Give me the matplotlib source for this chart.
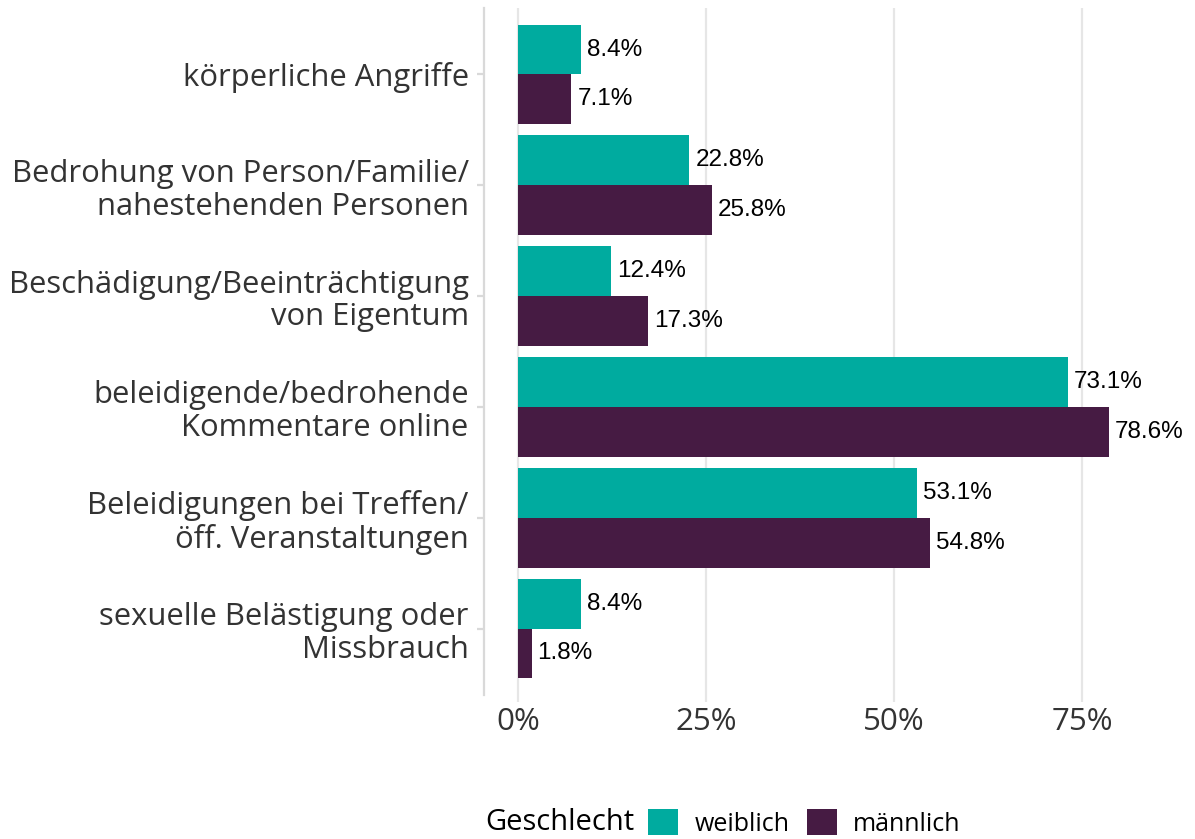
import matplotlib.pyplot as plt
from matplotlib.patches import Patch
import numpy as np

categories = [
    "körperliche Angriffe",
    "Bedrohung von Person/Familie/\nnahestehenden Personen",
    "Beschädigung/Beeinträchtigung\nvon Eigentum",
    "beleidigende/bedrohende\nKommentare online",
    "Beleidigungen bei Treffen/\nöff. Veranstaltungen",
    "sexuelle Belästigung oder\nMissbrauch",
]
weiblich = [8.4, 22.8, 12.4, 73.1, 53.1, 8.4]
maennlich = [7.1, 25.8, 17.3, 78.6, 54.8, 1.8]
xticks = [0, 25, 50, 75]
xticklabels = ["0%", "25%", "50%", "75%"]

col_w = "#00ab9f"
col_m = "#461b43"
grid_col = "#e6e6e6"
txt_col = "#333333"
ui_font = "Open Sans"

fig = plt.figure(figsize=(11.95, 8.39), dpi=100)
ax = fig.add_axes([484 / 1195, 144 / 839, (1140 - 484) / 1195, (831 - 144) / 839])

n = len(categories)
y = np.arange(n)[::-1]  # top category first
bh = 0.45
ax.barh(y + bh / 2, weiblich, height=bh, color=col_w, zorder=2)
ax.barh(y - bh / 2, maennlich, height=bh, color=col_m, zorder=2)

for yi, v in zip(y, weiblich):
    ax.text(v + 0.8, yi + bh / 2, f"{v:.1f}%", va="center", ha="left",
            fontsize=17.5, family="Liberation Sans", color="black")
for yi, v in zip(y, maennlich):
    ax.text(v + 0.8, yi - bh / 2, f"{v:.1f}%", va="center", ha="left",
            fontsize=17.5, family="Liberation Sans", color="black")

ax.set_xlim(-4.52, 82.7)
ax.set_ylim(-0.6, n - 1 + 0.6)
ax.set_yticks(y)
ax.set_yticklabels(categories, fontsize=22.3, family=ui_font, color=txt_col,
                   linespacing=1.12)
ax.set_xticks(xticks)
ax.set_xticklabels(xticklabels, fontsize=22.5, family=ui_font, color=txt_col)

ax.grid(axis="x", color=grid_col, linewidth=1.6, zorder=0)
ax.tick_params(axis="x", length=5, width=1.6, color=grid_col, pad=4)
ax.tick_params(axis="y", length=5, width=1.6, color="#d9d9d9", pad=6)
for s in ["top", "right", "bottom"]:
    ax.spines[s].set_visible(False)
ax.spines["left"].set_color("#d9d9d9")
ax.spines["left"].set_linewidth(1.6)

fig.text(485 / 1195, 17 / 839, "Geschlecht", fontsize=21, family=ui_font,
         color="black", va="center", ha="left")
handles = [Patch(facecolor=col_w), Patch(facecolor=col_m)]
fig.legend(handles, ["weiblich", "männlich"], loc="center left",
           bbox_to_anchor=(648 / 1195, 16 / 839), ncol=2, frameon=False,
           prop={"family": ui_font, "size": 18}, handlelength=1.2,
           handleheight=1.2, handletextpad=0.65, columnspacing=0.7,
           borderpad=0, borderaxespad=0)

plt.savefig("out.png", dpi=100)
